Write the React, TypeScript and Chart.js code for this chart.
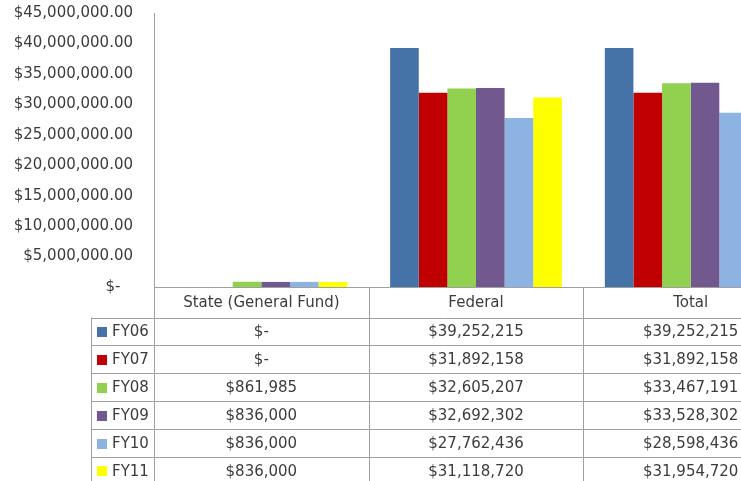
import React, { useEffect, useRef } from "react";
import { Chart, registerables } from "chart.js";

Chart.register(...registerables);

// Funding sources (categories on the x axis / table columns)
const categories = ["State (General Fund)", "Federal", "Total"];

// Fiscal-year series, values per category
const seriesNames = ["FY06", "FY07", "FY08", "FY09", "FY10", "FY11"];
const fy06 = [0, 39252215, 39252215];
const fy07 = [0, 31892158, 31892158];
const fy08 = [861985, 32605207, 33467191];
const fy09 = [836000, 32692302, 33528302];
const fy10 = [836000, 27762436, 28598436];
const fy11 = [836000, 31118720, 31954720];
const seriesValues = [fy06, fy07, fy08, fy09, fy10, fy11];

// Y axis range
const yMin = 0;
const yMax = 45000000;
const yStep = 5000000;

const seriesColors = ["#4572A7", "#C00000", "#92D050", "#71588F", "#8DB3E2", "#FFFF00"];

const FONT = "'DejaVu Sans', sans-serif";
const FONT_SIZE = 15;
const TEXT_COLOR = "#3c3c3c";
const LINE_COLOR = "#a0a0a0";

const fmtTable = (v: number) => (v === 0 ? "$-" : "$" + v.toLocaleString("en-US"));
const fmtAxis = (v: number) =>
  v === 0
    ? "$-\u2007\u2009"
    : "$" + v.toLocaleString("en-US", { minimumFractionDigits: 2, maximumFractionDigits: 2 });

// Draws the data table (header row, legend keys and values) under the plot area
const dataTablePlugin = {
  id: "dataTable",
  afterDraw(chart: any) {
    const { ctx, chartArea } = chart;
    const xs = chart.scales.x;
    const n = categories.length;
    const colW = (chartArea.right - chartArea.left) / n;
    const top = chartArea.bottom;
    const headerH = 30.5;
    const rowH = 27.9;
    const keyLeft = 91;
    const bottom = chart.height;
    const crisp = (v: number) => Math.round(v) + 0.5;

    ctx.save();
    ctx.strokeStyle = LINE_COLOR;
    ctx.lineWidth = 1;

    // value axis line, continued down through the table
    ctx.beginPath();
    ctx.moveTo(crisp(chartArea.left), chartArea.top);
    ctx.lineTo(crisp(chartArea.left), bottom);
    // category axis line (top of the table)
    ctx.moveTo(chartArea.left, crisp(top));
    ctx.lineTo(chartArea.right, crisp(top));
    // column separators
    for (let i = 1; i <= n; i++) {
      const x = crisp(chartArea.left + colW * i);
      ctx.moveTo(x, top);
      ctx.lineTo(x, bottom);
    }
    // legend key column border
    const firstRow = top + headerH;
    ctx.moveTo(crisp(keyLeft), firstRow);
    ctx.lineTo(crisp(keyLeft), bottom);
    // row separators
    for (let r = 0; r < seriesNames.length; r++) {
      const y = crisp(firstRow + rowH * r);
      ctx.moveTo(keyLeft, y);
      ctx.lineTo(chartArea.right, y);
    }
    ctx.stroke();

    ctx.font = `${FONT_SIZE}px ${FONT}`;
    ctx.fillStyle = TEXT_COLOR;
    ctx.textBaseline = "middle";
    ctx.textAlign = "center";

    // header: category names
    categories.forEach((c, i) => {
      const cx = xs.getPixelForValue(i);
      ctx.fillText(c, cx, top + headerH / 2 + 1);
    });

    // rows: legend key + values
    seriesNames.forEach((name, r) => {
      const cy = firstRow + rowH * r + rowH / 2 + 1;
      ctx.fillStyle = seriesColors[r];
      ctx.fillRect(97, Math.round(cy - 5.5), 10, 10);
      ctx.fillStyle = TEXT_COLOR;
      ctx.textAlign = "left";
      ctx.fillText(name, 112, cy);
      ctx.textAlign = "center";
      seriesValues[r].forEach((v, i) => {
        ctx.fillText(fmtTable(v), xs.getPixelForValue(i), cy);
      });
    });
    ctx.restore();
  },
};

export default function App() {
  const canvasRef = useRef<HTMLCanvasElement | null>(null);

  useEffect(() => {
    if (!canvasRef.current) return;
    const chart = new Chart(canvasRef.current, {
      type: "bar",
      data: {
        labels: categories,
        datasets: seriesNames.map((name, i) => ({
          label: name,
          data: seriesValues[i],
          backgroundColor: seriesColors[i],
          borderWidth: 0,
          categoryPercentage: 0.8,
          barPercentage: 1.0,
        })),
      },
      options: {
        animation: false,
        responsive: true,
        maintainAspectRatio: false,
        layout: { padding: { left: 0, top: 0, right: 12, bottom: 213 } },
        plugins: {
          legend: { display: false },
          tooltip: { enabled: false },
        },
        scales: {
          x: {
            display: false,
          },
          y: {
            min: yMin,
            max: yMax,
            border: { display: false },
            grid: { display: false, drawTicks: false },
            ticks: {
              stepSize: yStep,
              padding: 21,
              color: TEXT_COLOR,
              font: { family: FONT, size: FONT_SIZE },
              callback: (v: any) => fmtAxis(Number(v)),
            },
            afterFit: (scale: any) => {
              scale.width = 154;
            },
          },
        },
      },
      plugins: [dataTablePlugin],
    });
    return () => chart.destroy();
  }, []);

  return (
    <div
      style={{
        position: "fixed",
        left: 0,
        top: 0,
        width: 741,
        height: 481,
        overflow: "hidden",
        background: "#ffffff",
      }}
    >
      <div style={{ position: "relative", top: -17, width: 810, height: 517 }}>
        <canvas ref={canvasRef} />
      </div>
    </div>
  );
}
